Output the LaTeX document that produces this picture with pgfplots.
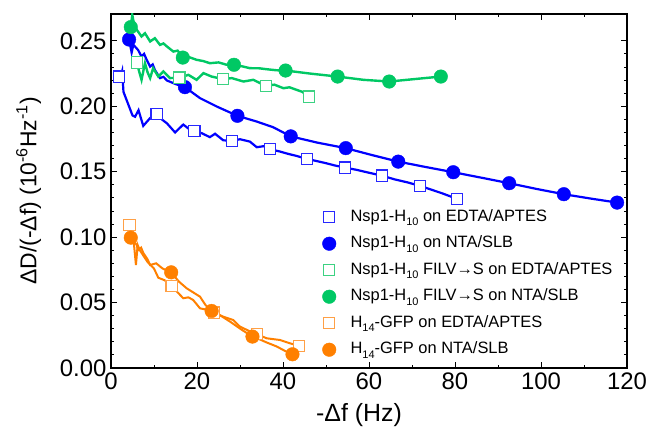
\documentclass[border=0pt]{standalone}
\usepackage{pgfplots}
\pgfplotsset{compat=1.18}
\usepackage{fontspec}
\setmainfont{Liberation Sans}
\definecolor{cblue}{RGB}{0,0,255}
\definecolor{cbluesq}{RGB}{40,40,255}
\definecolor{cgreen}{RGB}{0,200,100}
\definecolor{cgreensq}{RGB}{60,210,130}
\definecolor{corange}{RGB}{255,128,0}
\definecolor{corangesq}{RGB}{255,160,70}
\newcommand{\sub}[1]{\raisebox{-0.55ex}{\fontsize{11}{11}\selectfont #1}}
\begin{document}
\begin{tikzpicture}
\useasboundingbox (-111bp,-60bp) rectangle (540bp,368bp);
\begin{axis}[
  at={(0,0)}, anchor=south west,
  scale only axis, width=516bp, height=354bp,
  xmin=0, xmax=120, ymin=0, ymax=0.2705,
  xtick={0,20,...,120}, minor x tick num=1,
  ytick={0,0.05,0.1,0.15,0.2,0.25}, minor y tick num=4,
  tick align=inside, major tick length=6bp, minor tick length=3.5bp,
  tick style={line width=0.9bp, black},
  axis line style={line width=1.2bp},
  /pgf/number format/assume math mode=true,
  yticklabel style={/pgf/number format/fixed, /pgf/number format/fixed zerofill, /pgf/number format/precision=2, xshift=-1bp},
  ticklabel style={font=\fontsize{24}{24}\selectfont},
  xticklabel style={yshift=-1bp},
  xlabel={-Δf (Hz)},
  ylabel={ΔD/(-Δf) (10\textsuperscript{-6}Hz\textsuperscript{-1})},
  label style={font=\fontsize{23}{23}\selectfont},
  xlabel style={font=\fontsize{25}{25}\selectfont, yshift=-7bp, xshift=-10bp},
  ylabel style={yshift=12bp},
  legend style={draw=none, fill=none, at={(0.4036,0.459)}, anchor=north west,
    font=\fontsize{16.5}{16.5}\selectfont, row sep=7.5bp, column sep=13bp,
    nodes={inner sep=1.5bp, text height=12bp, text depth=4bp}},
  legend cell align=left,
  legend image code/.code={\draw[#1] plot coordinates {(0.3cm,0cm)};},
]
% lines
\addplot[cblue, line width=2.2bp, forget plot] coordinates {(1.9,0.2227)(2.3,0.2235)(2.6,0.227)(2.9,0.211)(3.6,0.205)(4.3,0.199)(5.0,0.193)(5.6,0.192)(6.4,0.197)(7.5,0.185)(8.3,0.188)(9.1,0.191)(10.6,0.194)(11.8,0.190)(13.0,0.187)(14.9,0.180)(16.8,0.186)(18.0,0.183)(19.4,0.1812)(21.1,0.1794)(23.0,0.1764)(24.2,0.179)(26.1,0.174)(28.2,0.1735)(30.0,0.1748)(32.3,0.173)(33.9,0.1687)(35.5,0.1695)(37.0,0.1672)(39.3,0.1654)(41.0,0.1638)(43.2,0.162)(45.5,0.1598)(48,0.158)(50,0.1565)(52,0.1548)(54.4,0.1531)(57,0.1515)(60,0.1492)(63.0,0.147)(66,0.1441)(69,0.1418)(71.9,0.1391)(74,0.1368)(77,0.1335)(80.5,0.1292)};
\addplot[cblue, line width=2.2bp, forget plot] coordinates {(4.2,0.251)(4.8,0.241)(5.2,0.247)(6.3,0.243)(7.1,0.238)(7.7,0.240)(8.3,0.2355)(9.1,0.2303)(9.7,0.232)(10.2,0.2278)(11.4,0.2215)(12.2,0.2225)(13.0,0.2197)(15,0.217)(17.2,0.2146)(20.7,0.2062)(24.6,0.1998)(29.4,0.1927)(33.9,0.1883)(37.7,0.184)(41.8,0.177)(48,0.1722)(54.6,0.168)(60.7,0.1627)(66.8,0.1577)(73,0.1537)(79.6,0.1496)(86,0.1455)(92.6,0.1412)(99,0.1368)(105.3,0.1328)(111.5,0.1295)(117.7,0.1264)};
\addplot[cgreen, line width=2.4bp, forget plot] coordinates {(6.0,0.2334)(6.6,0.226)(7.1,0.2202)(7.9,0.2329)(8.5,0.226)(9.1,0.2215)(9.8,0.2291)(11.0,0.2227)(12.2,0.2266)(13.7,0.2215)(15.9,0.2219)(18.0,0.224)(19.9,0.2202)(21.5,0.2253)(23.4,0.2227)(26.1,0.2207)(28.1,0.2215)(30.8,0.2189)(33.1,0.2202)(36.0,0.2156)(38,0.2165)(40.1,0.2138)(41.5,0.2145)(43.2,0.2125)(44.5,0.211)(46.0,0.2074)};
\addplot[cgreen, line width=2.4bp, forget plot] coordinates {(4.6,0.2605)(4.95,0.2699)(5.4,0.262)(6.0,0.2584)(7.1,0.2533)(7.9,0.2558)(9.1,0.2495)(10.2,0.252)(11.4,0.2469)(12.2,0.248)(13.0,0.2457)(14.5,0.2418)(15.5,0.2425)(16.7,0.2372)(18.2,0.2375)(19.9,0.2355)(21.5,0.2345)(23,0.2329)(25,0.2335)(26.8,0.2318)(28.6,0.2317)(30.5,0.2305)(32.3,0.2291)(34.5,0.229)(36.2,0.2283)(38.5,0.2275)(40.6,0.2273)(46.5,0.2249)(52.7,0.2227)(58.7,0.2202)(64.7,0.2189)(70.7,0.2208)(76.7,0.2227)};
\addplot[corange, line width=2bp, forget plot] coordinates {(4.3,0.1093)(4.8,0.101)(5.3,0.096)(5.8,0.0787)(6.2,0.094)(6.7,0.090)(7.5,0.086)(8.5,0.081)(10.0,0.076)(11.0,0.069)(12.5,0.067)(14.1,0.0627)(15.7,0.0571)(16.8,0.0533)(18,0.054)(19.1,0.052)(20.7,0.0456)(22.3,0.0445)(24.0,0.0423)(26.1,0.0392)(28.4,0.0367)(30,0.0316)(32,0.0285)(33.9,0.0258)(36.2,0.0227)(39.3,0.0214)(41.5,0.019)(43.8,0.0168)};
\addplot[corange, line width=2bp, forget plot] coordinates {(4.6,0.0996)(5.5,0.096)(6.0,0.094)(6.3,0.090)(7.0,0.092)(7.5,0.088)(8.5,0.083)(9.1,0.0787)(10.5,0.080)(12,0.076)(14.0,0.0731)(15.8,0.066)(17.6,0.0609)(20.7,0.0545)(22,0.048)(23.4,0.0436)(25.5,0.040)(27.7,0.0354)(30.5,0.029)(32.9,0.024)(34.5,0.022)(36.2,0.0195)(38.5,0.0165)(40.5,0.013)(42.2,0.0105)};
% markers
\addplot[only marks, mark=square*, mark size=5.6bp, mark options={draw=cbluesq, fill=white, line width=1.1bp}] coordinates {(1.9,0.2227)(10.6,0.194)(19.4,0.1812)(28.2,0.1735)(37.0,0.1672)(45.5,0.1598)(54.4,0.1531)(63.0,0.147)(71.9,0.1391)(80.5,0.1292)};
\addlegendentry{Nsp1-H\sub{10} on EDTA/APTES}
\addplot[only marks, mark=*, mark size=6.8bp, mark options={draw=cblue, fill=cblue}] coordinates {(4.2,0.251)(17.2,0.2146)(29.4,0.1927)(41.8,0.177)(54.6,0.168)(66.8,0.1577)(79.6,0.1496)(92.6,0.1412)(105.3,0.1328)(117.7,0.1264)};
\addlegendentry{Nsp1-H\sub{10} on NTA/SLB}
\addplot[only marks, mark=square*, mark size=5.6bp, mark options={draw=cgreensq, fill=white, line width=1.1bp}] coordinates {(6.0,0.2334)(15.9,0.2219)(26.1,0.2207)(36.0,0.2156)(46.0,0.2074)};
\addlegendentry{Nsp1-H\sub{10} FILV→S on EDTA/APTES}
\addplot[only marks, mark=*, mark size=6.8bp, mark options={draw=cgreen, fill=cgreen}] coordinates {(4.6,0.2605)(16.7,0.2372)(28.6,0.2317)(40.6,0.2273)(52.7,0.2227)(64.7,0.2189)(76.7,0.2227)};
\addlegendentry{Nsp1-H\sub{10} FILV→S on NTA/SLB}
\addplot[only marks, mark=square*, mark size=5.6bp, mark options={draw=corangesq, fill=white, line width=1.1bp}] coordinates {(4.3,0.1093)(14.1,0.0627)(24.0,0.0423)(33.9,0.0258)(43.8,0.0168)};
\addlegendentry{H\sub{14}-GFP on EDTA/APTES}
\addplot[only marks, mark=*, mark size=6.8bp, mark options={draw=corange, fill=corange}] coordinates {(4.6,0.0996)(14.0,0.0731)(23.4,0.0436)(32.9,0.024)(42.2,0.0105)};
\addlegendentry{H\sub{14}-GFP on NTA/SLB}
\end{axis}
\end{tikzpicture}
\end{document}
